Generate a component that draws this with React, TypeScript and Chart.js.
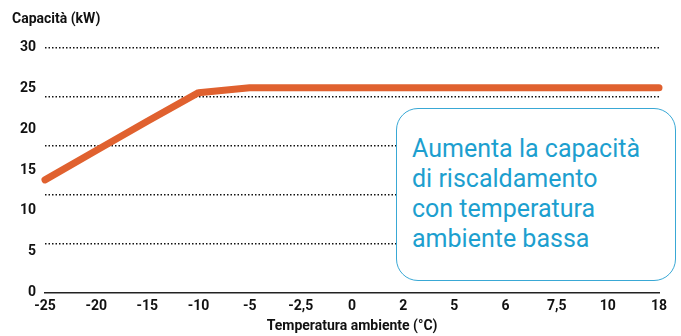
import React, { useEffect, useRef } from "react";
import { Chart, registerables } from "chart.js";

Chart.register(...registerables);

const categories = ["-25", "-20", "-15", "-10", "-5", "-2,5", "0", "2", "5", "6", "7,5", "10", "18"];
const capacity = [13.8, 17.4, 21.0, 24.5, 25.1, 25.1, 25.1, 25.1, 25.1, 25.1, 25.1, 25.1, 25.1];
const yMin = 0;
const yMax = 30;
const yStep = 5;
const gridValues = [6, 12, 18, 24, 30];
const yTitle = "Capacità (kW)";
const xTitle = "Temperatura ambiente (°C)";
const noteLines = ["Aumenta la capacità", "di riscaldamento", "con temperatura", "ambiente bassa"];

const FONT = "Roboto, 'Open Sans', sans-serif";

export default function App() {
  const canvasRef = useRef<HTMLCanvasElement | null>(null);

  useEffect(() => {
    const canvas = canvasRef.current;
    if (!canvas) return;
    const chart = new Chart(canvas, {
      type: "line",
      data: {
        labels: categories,
        datasets: [
          {
            data: capacity,
            borderColor: "#e0612f",
            backgroundColor: "#e0612f",
            borderWidth: 7,
            pointRadius: 0,
            tension: 0,
            borderCapStyle: "round",
            borderJoinStyle: "round",
            clip: false,
            yAxisID: "y",
          },
        ],
      },
      options: {
        animation: false,
        responsive: false,
        maintainAspectRatio: false,
        layout: { padding: { left: 12, right: 22, top: 0, bottom: 0 } },
        plugins: {
          legend: { display: false },
          tooltip: { enabled: false },
          title: {
            display: true,
            text: yTitle,
            align: "start",
            color: "#111",
            font: { family: FONT, size: 14, weight: "bold" },
            padding: { top: 11, bottom: 20 },
          },
        },
        scales: {
          x: {
            type: "category",
            offset: false,
            grid: { display: false, drawTicks: false },
            border: { display: true, color: "#222", width: 1.5 },
            ticks: {
              color: "#111",
              font: { family: FONT, size: 14, weight: "bold" },
              padding: 6,
              maxRotation: 0,
              autoSkip: false,
            },
            title: {
              display: true,
              text: xTitle,
              color: "#111",
              font: { family: FONT, size: 14, weight: "bold" },
              padding: { top: -3, bottom: 1 },
            },
          },
          y: {
            position: "left",
            min: yMin,
            max: yMax,
            grid: { display: false, drawTicks: false },
            border: { display: false },
            ticks: {
              stepSize: yStep,
              color: "#111",
              font: { family: FONT, size: 14, weight: "bold" },
              padding: 9,
            },
            afterFit: (scale: any) => {
              scale.width = 33;
            },
          },
          y2: {
            position: "right",
            min: yMin,
            max: yMax,
            afterBuildTicks: (scale: any) => {
              scale.ticks = gridValues.map((v) => ({ value: v }));
            },
            ticks: { display: false },
            grid: { display: true, drawTicks: false, color: "#111", lineWidth: 1.5 },
            border: { display: false, dash: [1.5, 2] },
            afterFit: (scale: any) => {
              scale.width = 0;
            },
          },
        },
      },
    });
    return () => chart.destroy();
  }, []);

  return (
    <div style={{ position: "fixed", left: 0, top: 0, width: 681, height: 336, background: "#fff" }}>
      <canvas ref={canvasRef} width={681} height={336} style={{ display: "block", width: 681, height: 336 }} />
      <div
        style={{
          position: "absolute",
          left: 396,
          top: 108,
          width: 280,
          height: 173,
          boxSizing: "border-box",
          border: "1.5px solid #39a8d5",
          borderRadius: 22,
          background: "#fff",
          color: "#1d9fcf",
          fontFamily: FONT,
          fontSize: 25,
          lineHeight: "30px",
          paddingLeft: 15,
          paddingTop: 25,
        }}
      >
        {noteLines.map((l, i) => (
          <div key={i}>{l}</div>
        ))}
      </div>
    </div>
  );
}
